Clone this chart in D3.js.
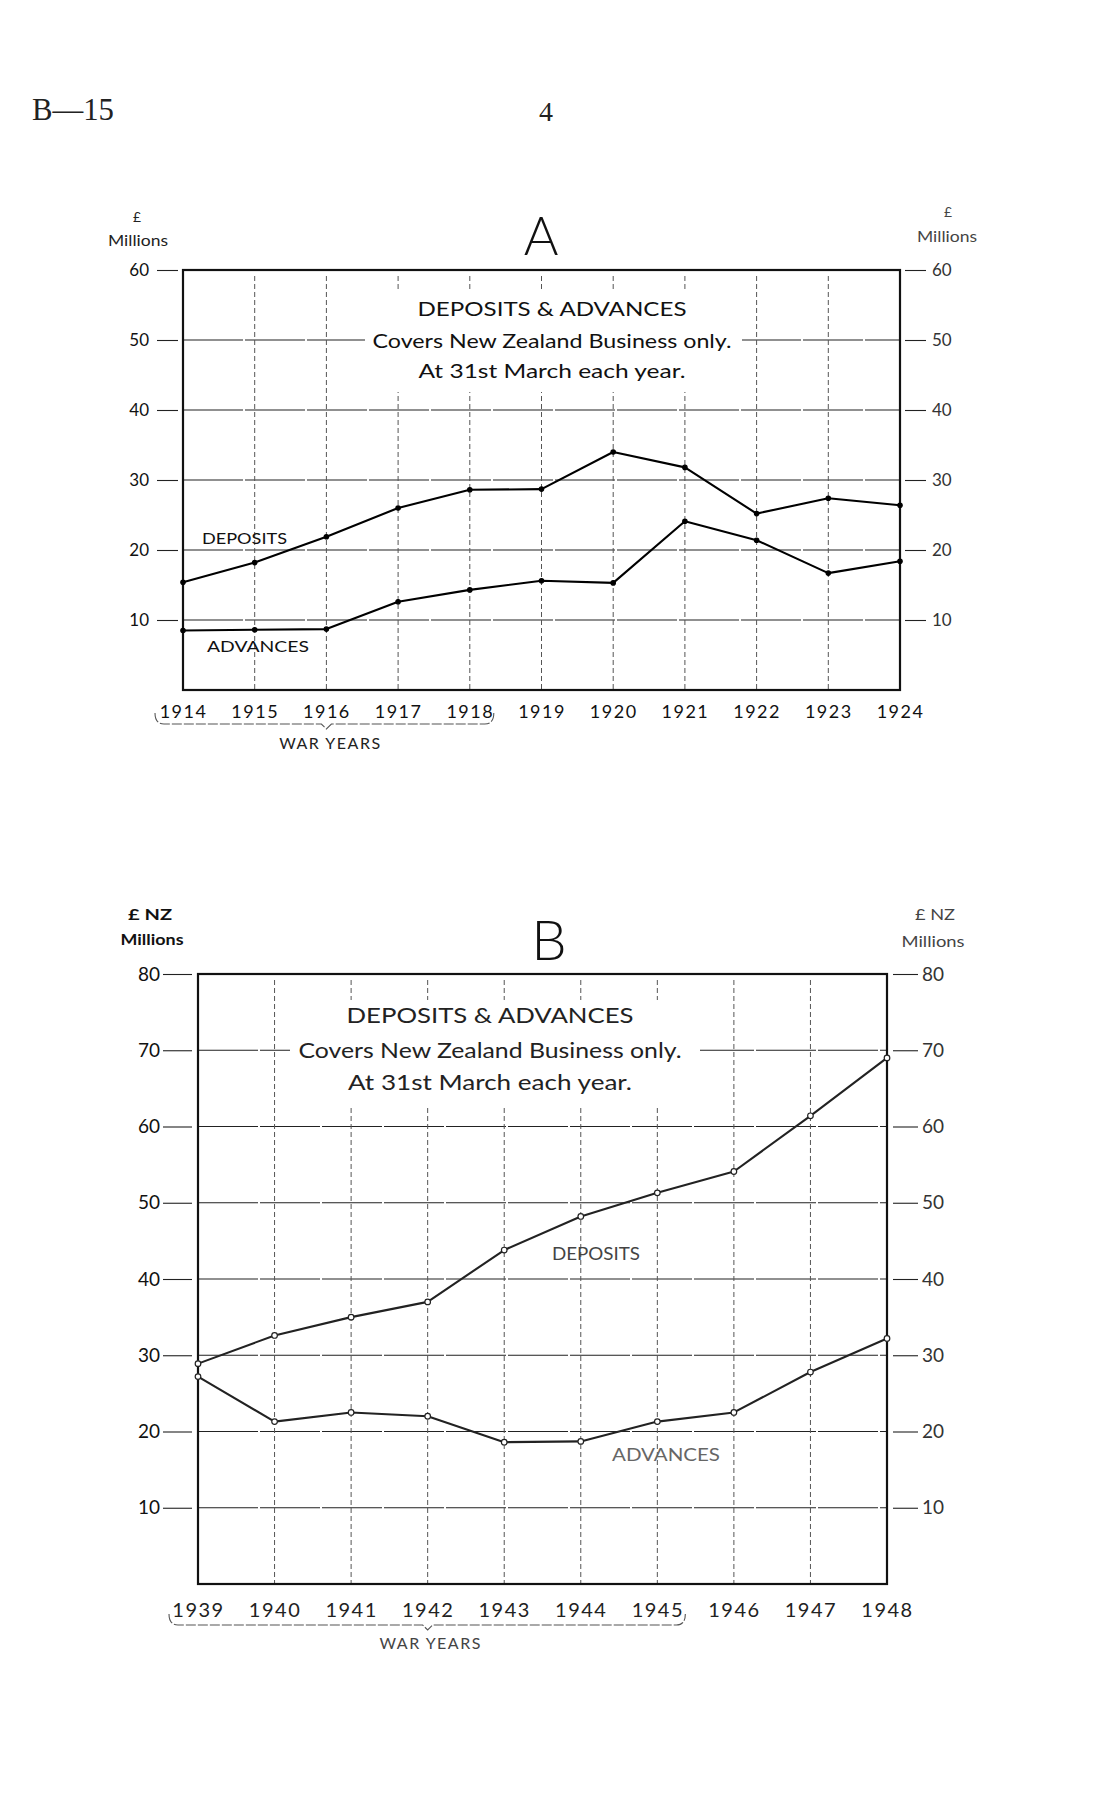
<!DOCTYPE html>
<html><head><meta charset="utf-8">
<script src="https://cdn.jsdelivr.net/npm/d3@7"></script>
<style>
body{margin:0;background:#fff}
svg{display:block}
svg{font-family:Lato,"Open Sans","DejaVu Sans",sans-serif}
</style>
</head><body>
<script>
// ---------- DATA ----------
const yearsA    = [1914,1915,1916,1917,1918,1919,1920,1921,1922,1923,1924];
const depositsA = [15.4,18.2,21.9,26.0,28.6,28.7,34.0,31.8,25.2,27.4,26.4];
const advancesA = [8.5,8.6,8.7,12.6,14.3,15.6,15.3,24.1,21.4,16.7,18.4];
const yTicksA   = [10,20,30,40,50,60];

const yearsB    = [1939,1940,1941,1942,1943,1944,1945,1946,1947,1948];
const depositsB = [28.9,32.6,35.0,37.0,43.8,48.2,51.3,54.1,61.4,69.0];
const advancesB = [27.2,21.3,22.5,22.0,18.6,18.7,21.3,22.5,27.8,32.2];
const yTicksB   = [10,20,30,40,50,60,70,80];

const titleLines = ["DEPOSITS & ADVANCES","Covers New Zealand Business only.","At 31st March each year."];

// ---------- DRAW ----------
const svg = d3.select("body").append("svg").attr("width",1114).attr("height",1807);
const serif = "'Liberation Serif','DejaVu Serif',serif";

// page header
svg.append("text").attr("x",32).attr("y",120).style("font-family",serif)
  .attr("font-size",31).attr("fill","#222").attr("textLength",82).attr("lengthAdjust","spacingAndGlyphs").text("B—15");
svg.append("text").attr("x",546).attr("y",121).attr("text-anchor","middle")
  .style("font-family",serif).attr("font-size",28).attr("fill","#222").text("4");

function chart(o){
  const x = d3.scaleLinear().domain(d3.extent(o.years)).range([o.left,o.right]);
  const y = d3.scaleLinear().domain([0,o.ymax]).range([o.bottom,o.top]);
  const g = svg.append("g");

  // horizontal grid
  g.append("g").selectAll("line").data(o.yTicks.filter(v=>v<o.ymax)).join("line")
    .attr("x1",o.left).attr("x2",o.right).attr("y1",d=>y(d)).attr("y2",d=>y(d))
    .attr("stroke",o.gridColor).attr("stroke-width",1.1).attr("stroke-dasharray","60,2");
  // vertical grid
  g.append("g").selectAll("line").data(o.years.slice(1,-1)).join("line")
    .attr("x1",d=>x(d)).attr("x2",d=>x(d)).attr("y1",o.top+6).attr("y2",o.bottom)
    .attr("stroke",o.vgridColor).attr("stroke-width",1).attr("stroke-dasharray","5,3");

  // white box behind the title text
  g.append("rect").attr("x",o.box[0]).attr("y",o.box[1]).attr("width",o.box[2]-o.box[0])
    .attr("height",o.box[3]-o.box[1]).attr("fill","#fff");

  // frame
  g.append("rect").attr("x",o.left).attr("y",o.top).attr("width",o.right-o.left)
    .attr("height",o.bottom-o.top).attr("fill","none").attr("stroke","#111").attr("stroke-width",2.2);

  // y axes
  const la = g.append("g").attr("transform",`translate(${o.left-o.gap},0)`)
    .call(d3.axisLeft(y).tickValues(o.yTicks).tickSize(o.tickL).tickPadding(o.padL));
  const ra = g.append("g").attr("transform",`translate(${o.right+o.gap},0)`)
    .call(d3.axisRight(y).tickValues(o.yTicks).tickSize(o.tickR).tickPadding(o.padR));
  [la,ra].forEach(a=>{
    a.attr("font-family",null);
    a.select(".domain").remove();
    a.selectAll("line").attr("stroke","#222").attr("stroke-width",1.1);
    a.selectAll("text").attr("font-size",o.yFont);
  });
  la.selectAll("text").attr("fill",o.leftTextColor);
  ra.selectAll("text").attr("fill",o.rightTextColor);

  // x axis labels
  const xa = g.append("g").attr("transform",`translate(0,${o.bottom})`)
    .call(d3.axisBottom(x).tickValues(o.years).tickFormat(d3.format("d")).tickSize(0).tickPadding(o.xPad));
  xa.attr("font-family",null);
  xa.select(".domain").remove();
  xa.selectAll("text").attr("font-size",o.xFont).attr("fill",o.xTextColor).attr("letter-spacing",1.5);

  // war years brace
  const b = o.brace;
  const p = d3.path();
  p.moveTo(x(b.from)-b.padL, b.y-11);
  p.quadraticCurveTo(x(b.from)-b.padL, b.y, x(b.from)-b.padL+9, b.y);
  p.lineTo(x(b.tip)-5, b.y);
  p.lineTo(x(b.tip), b.y+5);
  p.lineTo(x(b.tip)+5, b.y);
  p.lineTo(x(b.to)+b.padR-9, b.y);
  p.quadraticCurveTo(x(b.to)+b.padR, b.y, x(b.to)+b.padR, b.y-11);
  g.append("path").attr("d",p.toString()).attr("fill","none").attr("stroke","#555")
    .attr("stroke-width",1.1).attr("stroke-dasharray","10,2");
  g.append("text").attr("x",x(b.tip)+b.labelDx).attr("y",b.labelY).attr("text-anchor","middle")
    .attr("font-size",16).attr("letter-spacing",1.5).attr("fill",o.braceTextColor).text("WAR YEARS");

  // series
  const line = d3.line().x((d,i)=>x(o.years[i])).y(d=>y(d));
  [o.deposits,o.advances].forEach(s=>{
    g.append("path").datum(s).attr("d",line).attr("fill","none")
      .attr("stroke",o.lineColor).attr("stroke-width",2.1).attr("stroke-linejoin","round");
    g.append("g").selectAll("circle").data(s).join("circle")
      .attr("cx",(d,i)=>x(o.years[i])).attr("cy",d=>y(d)).attr("r",o.markerR)
      .attr("fill",o.markerFill).attr("stroke",o.lineColor).attr("stroke-width",1.2);
  });

  // series labels
  o.labels.forEach(l=>{
    g.append("text").attr("x",l.x).attr("y",l.y).attr("font-size",l.size)
      .attr("textLength",l.w).attr("lengthAdjust","spacingAndGlyphs").attr("fill",l.color).text(l.t);
  });

  // title block
  o.titleY.forEach((ty,i)=>{
    g.append("text").attr("x",o.titleX).attr("y",ty).attr("text-anchor","middle")
      .attr("font-size",o.titleFont).attr("textLength",o.titleW[i]).attr("lengthAdjust","spacingAndGlyphs")
      .attr("fill",o.titleColor).text(titleLines[i]);
  });

  // big letter
  g.append("text").attr("x",o.letterX).attr("y",o.letterY).attr("text-anchor","middle")
    .attr("font-size",o.letterSize).attr("font-weight",300).attr("fill","#111").text(o.letter);

  // unit labels
  o.units.forEach(u=>{
    g.append("text").attr("x",u.x).attr("y",u.y).attr("text-anchor","middle").attr("font-size",u.size)
      .attr("font-weight",u.weight||400).attr("textLength",u.w).attr("lengthAdjust","spacingAndGlyphs")
      .attr("fill",u.color).text(u.t);
  });
}

chart({
  years:yearsA, deposits:depositsA, advances:advancesA, yTicks:yTicksA, ymax:60,
  left:183, right:900, top:270, bottom:690,
  gridColor:"#222", vgridColor:"#555",
  box:[365,290,742,392],
  gap:5, tickL:21, padL:8, tickR:21, padR:6, yFont:17,
  leftTextColor:"#111", rightTextColor:"#333",
  xPad:15, xFont:18, xTextColor:"#111",
  brace:{from:1914,to:1918,tip:1916,padL:28,padR:24,y:724,labelY:749,labelDx:4},
  braceTextColor:"#222",
  lineColor:"#000", markerR:2.2, markerFill:"#000",
  labels:[
    {t:"DEPOSITS",x:202,y:544,size:16,w:85,color:"#111"},
    {t:"ADVANCES",x:207,y:652,size:16,w:102,color:"#111"}
  ],
  titleX:552, titleY:[316,348,378], titleW:[269,359,267], titleFont:20, titleColor:"#111",
  letter:"A", letterX:541, letterY:255, letterSize:53,
  units:[
    {t:"£",x:137,y:222,size:14,w:8,color:"#222"},
    {t:"Millions",x:138,y:246,size:15,w:60,color:"#222"},
    {t:"£",x:948,y:217,size:14,w:8,color:"#444"},
    {t:"Millions",x:947,y:242,size:15,w:60,color:"#444"}
  ]
});

chart({
  years:yearsB, deposits:depositsB, advances:advancesB, yTicks:yTicksB, ymax:80,
  left:198, right:887, top:974, bottom:1584,
  gridColor:"#222", vgridColor:"#555",
  box:[290,1000,700,1105],
  gap:6, tickL:29, padL:3, tickR:25, padR:4, yFont:19,
  leftTextColor:"#111", rightTextColor:"#333",
  xPad:19, xFont:20, xTextColor:"#222",
  brace:{from:1939,to:1945,tip:1942,padL:29,padR:28,y:1625,labelY:1649,labelDx:3},
  braceTextColor:"#444",
  lineColor:"#222", markerR:2.8, markerFill:"#fff",
  labels:[
    {t:"DEPOSITS",x:552,y:1260,size:17,w:88,color:"#444"},
    {t:"ADVANCES",x:612,y:1461,size:17,w:108,color:"#666"}
  ],
  titleX:490, titleY:[1023,1058,1090], titleW:[287,383,284], titleFont:21, titleColor:"#222",
  letter:"B", letterX:549, letterY:960, letterSize:56,
  units:[
    {t:"£ NZ",x:150,y:920,size:16,w:44,color:"#111",weight:700},
    {t:"Millions",x:152,y:945,size:16,w:63,color:"#111",weight:700},
    {t:"£ NZ",x:935,y:920,size:16,w:40,color:"#444"},
    {t:"Millions",x:933,y:947,size:16,w:63,color:"#444"}
  ]
});
</script>
</body></html>
